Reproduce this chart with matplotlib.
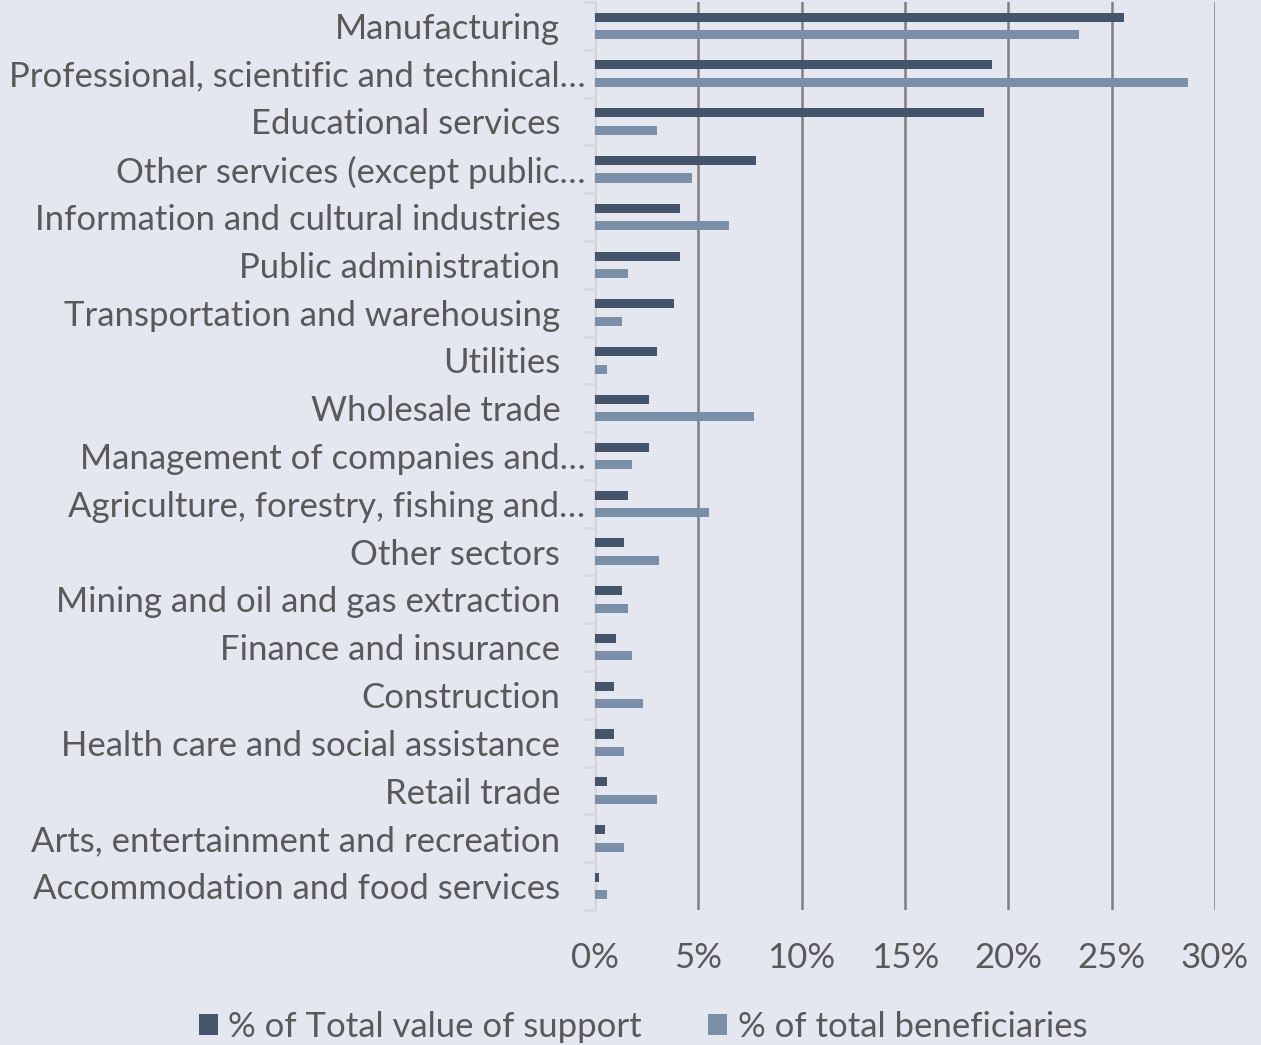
import matplotlib
matplotlib.use("Agg")
import matplotlib.pyplot as plt
import matplotlib.transforms as mtransforms
import numpy as np

categories = [
    "Manufacturing",
    "Professional, scientific and technical…",
    "Educational services",
    "Other services (except public…",
    "Information and cultural industries",
    "Public administration",
    "Transportation and warehousing",
    "Utilities",
    "Wholesale trade",
    "Management of companies and…",
    "Agriculture, forestry, fishing and…",
    "Other sectors",
    "Mining and oil and gas extraction",
    "Finance and insurance",
    "Construction",
    "Health care and social assistance",
    "Retail trade",
    "Arts, entertainment and recreation",
    "Accommodation and food services",
]
support_pct = [25.6, 19.2, 18.8, 7.8, 4.1, 4.1, 3.8, 3.0, 2.6, 2.6, 1.6, 1.4, 1.3, 1.0, 0.9, 0.9, 0.6, 0.5, 0.2]
beneficiaries_pct = [23.4, 28.7, 3.0, 4.7, 6.5, 1.6, 1.3, 0.6, 7.7, 1.8, 5.5, 3.1, 1.6, 1.8, 2.3, 1.4, 3.0, 1.4, 0.6]
xticks = [0, 5, 10, 15, 20, 25, 30]
xtick_labels = ["0%", "5%", "10%", "15%", "20%", "25%", "30%"]
series_names = ["% of Total value of support", "% of total beneficiaries"]

BG = "#E4E7EF"
DARK = "#44546A"
LIGHT = "#7B8FA9"
TXT = "#595959"
FONT = "Lato"
FS = 25

plt.rcParams["font.family"] = [FONT, "DejaVu Sans"]

W, H = 1261, 1045
fig = plt.figure(figsize=(W / 100, H / 100), dpi=100, facecolor=BG)
ax = fig.add_axes([595 / W, 1 - 910 / H, (1215 - 595) / W, (910 - 2) / H])
ax.set_facecolor(BG)

n = len(categories)
y = np.arange(n)
off = 0.183
h = 0.19
ax.barh(y - off, support_pct, height=h, color=DARK, label=series_names[0], zorder=3)
ax.barh(y + off, beneficiaries_pct, height=h, color=LIGHT, label=series_names[1], zorder=3)

ax.set_ylim(n - 0.5, -0.5)
ax.set_xlim(0, 30)

ax.set_xticks(xticks)
ax.set_xticklabels(xtick_labels, fontsize=FS, color=TXT)
ax.tick_params(axis="x", length=0, pad=23)
ax.xaxis.grid(True, color="#7F7F7F", linewidth=1.8, zorder=1)
ax.set_axisbelow(True)

# category labels at centers, tick marks at boundaries
ax.set_yticks(y)
ax.set_yticklabels(categories, fontsize=FS, color=TXT)
ax.tick_params(axis="y", length=0, pad=25)
ax.set_yticks(np.arange(n + 1) - 0.5, minor=True)
ax.tick_params(axis="y", which="minor", length=9, width=2, color="#D8DADF")

for lbl in ax.get_yticklabels():
    if lbl.get_text().endswith("…"):
        lbl.set_transform(lbl.get_transform() + mtransforms.ScaledTranslation(25 / 100, 0, fig.dpi_scale_trans))

for s in ["top", "right", "bottom"]:
    ax.spines[s].set_visible(False)
ax.spines["left"].set_color("#D8DADF")
ax.spines["left"].set_linewidth(2)

fig.legend(loc="center", bbox_to_anchor=(643 / W, 1 - 1027 / H), ncol=2, frameon=False,
           fontsize=FS, labelcolor=TXT, handlelength=0.55, handleheight=0.55,
           handletextpad=0.3, columnspacing=1.9)

fig.savefig("out.png", dpi=100, facecolor=BG)
